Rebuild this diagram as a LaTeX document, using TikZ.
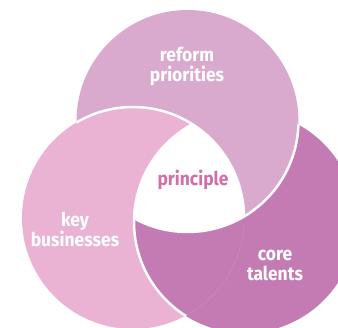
\documentclass[tikz,border=0pt]{standalone}
\usepackage{fontspec}
\setmainfont{Fira Sans}[FakeStretch=0.92]
\definecolor{topc}{HTML}{D9AACD}
\definecolor{leftc}{HTML}{EAB3D3}
\definecolor{botc}{HTML}{C47BB3}
\definecolor{midc}{HTML}{D16FA8}
\begin{document}
\begin{tikzpicture}[x=1pt,y=-1pt,
  lab/.style={font=\bfseries\fontsize{19}{20}\selectfont, text=white, align=center, inner sep=0pt},
  sep/.style={draw=white, line width=2.5pt}]
\useasboundingbox (0,0) rectangle (338,328);
\coordinate (T) at (187.5,121);
\coordinate (L) at (133,218);
\coordinate (B) at (245,222);
\def\R{111pt}
% fills
\fill[botc] (B) circle (\R);
\fill[topc] (T) circle (\R);
\fill[leftc] (L) circle (\R);
\begin{scope}
  \clip (L) circle (\R);
  \fill[botc] (B) circle (\R);
\end{scope}
\begin{scope}
  \clip (L) circle (\R);
  \clip (B) circle (\R);
  \fill[white] (T) circle (\R);
\end{scope}
% visible white seams
\begin{scope}
  \clip (T) circle (\R);
  \draw[sep] (L) circle (\R);
\end{scope}
\begin{scope}
  \clip (B) circle (\R);
  \draw[sep] (T) circle (\R);
\end{scope}
\begin{scope}
  \clip (L) circle (\R);
  \draw[sep] (B) circle (\R);
\end{scope}
% labels
\node[lab] (reform) at (187,66) {reform\\priorities};
\node[lab, text=midc] (principle) at (193,180) {principle};
\node[lab] (key) at (75,229) {key\\businesses};
\node[lab] (core) at (275,265) {core\\talents};
\end{tikzpicture}
\end{document}
